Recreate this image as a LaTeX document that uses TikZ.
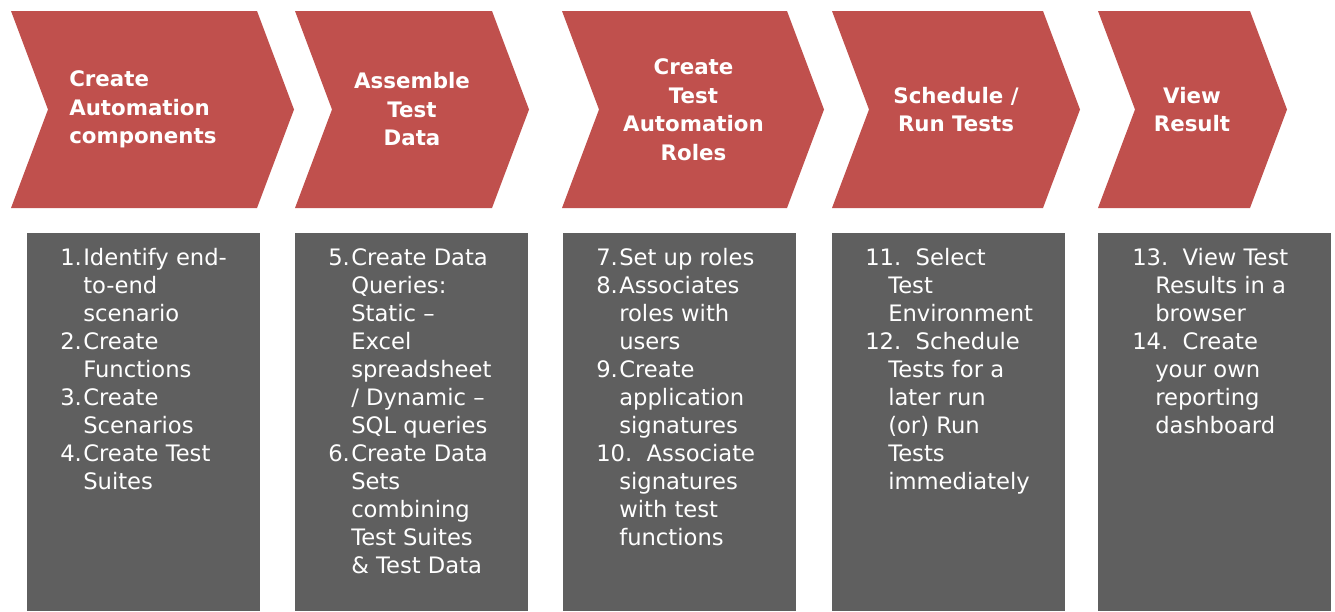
\documentclass[tikz,border=0pt]{standalone}
\usepackage{fontspec}
\setmainfont{DejaVu Sans}
\definecolor{chevred}{HTML}{C0504D}
\definecolor{boxgray}{HTML}{5F5F5F}
\newlength\numw
\setlength\numw{17.25pt}
\newcommand\nr[1]{\makebox[\numw][l]{#1}}
\newcommand\cont{\hspace*{\numw}}

\begin{document}
\begin{tikzpicture}[x=0.75pt,y=-0.75pt]
    \tikzstyle{head}=[text=white,inner sep=0,align=center,font=\bfseries\fontsize{16}{21.4}\selectfont]
    \tikzstyle{body}=[text=white,inner sep=0,align=left,anchor=north west,font=\fontsize{17}{21}\selectfont]
    \tikzstyle{panel}=[fill=boxgray,draw=none,inner sep=0,anchor=north west,minimum width=174.75pt,minimum height=283.5pt]

    \useasboundingbox (0,0) rectangle (1335,611);

    % chevrons
    \foreach \a/\b in {11/257, 295/492, 562/787, 832/1043, 1098/1250}{
      \fill[chevred] (\a,11) -- (\b,11) -- (\b+37,109.5) -- (\b,208) -- (\a,208) -- (\a+37,109.5) -- cycle;
    }
    \node[head,align=left,anchor=west](h1) at (69,109.5){Create\\Automation\\components};
    \node[head](h2) at (412,109.5){Assemble\\Test\\Data};
    \node[head](h3) at (693.5,109.5){Create\\Test\\Automation\\Roles};
    \node[head](h4) at (956,109.5){Schedule /\\Run Tests};
    \node[head](h5) at (1192,109.5){View\\Result};

    % panels
    \foreach \x/\n in {27/g1, 295/g2, 563/g3, 832/g4, 1098/g5}{
      \node[panel](\n) at (\x,233){};
    }

    \node[body](b1) at (60,248){\nr{1.}Identify end-\\ \cont to-end\\ \cont scenario\\ \nr{2.}Create\\ \cont Functions\\ \nr{3.}Create\\ \cont Scenarios\\ \nr{4.}Create Test\\ \cont Suites};
    \node[body](b2) at (328,248){\nr{5.}Create Data\\ \cont Queries:\\ \cont Static --\\ \cont Excel\\ \cont spreadsheet\\ \cont / Dynamic --\\ \cont SQL queries\\ \nr{6.}Create Data\\ \cont Sets\\ \cont combining\\ \cont Test Suites\\ \cont \& Test Data};
    \node[body](b3) at (596,248){\nr{7.}Set up roles\\ \nr{8.}Associates\\ \cont roles with\\ \cont users\\ \nr{9.}Create\\ \cont application\\ \cont signatures\\ 10.\ \ Associate\\ \cont signatures\\ \cont with test\\ \cont functions};
    \node[body](b4) at (865,248){11.\ \ Select\\ \cont Test\\ \cont Environment\\ 12.\ \ Schedule\\ \cont Tests for a\\ \cont later run\\ \cont (or) Run\\ \cont Tests\\ \cont immediately};
    \node[body](b5) at (1132,248){13.\ \ View Test\\ \cont Results in a\\ \cont browser\\ 14.\ \ Create\\ \cont your own\\ \cont reporting\\ \cont dashboard};
  \end{tikzpicture}
\end{document}
